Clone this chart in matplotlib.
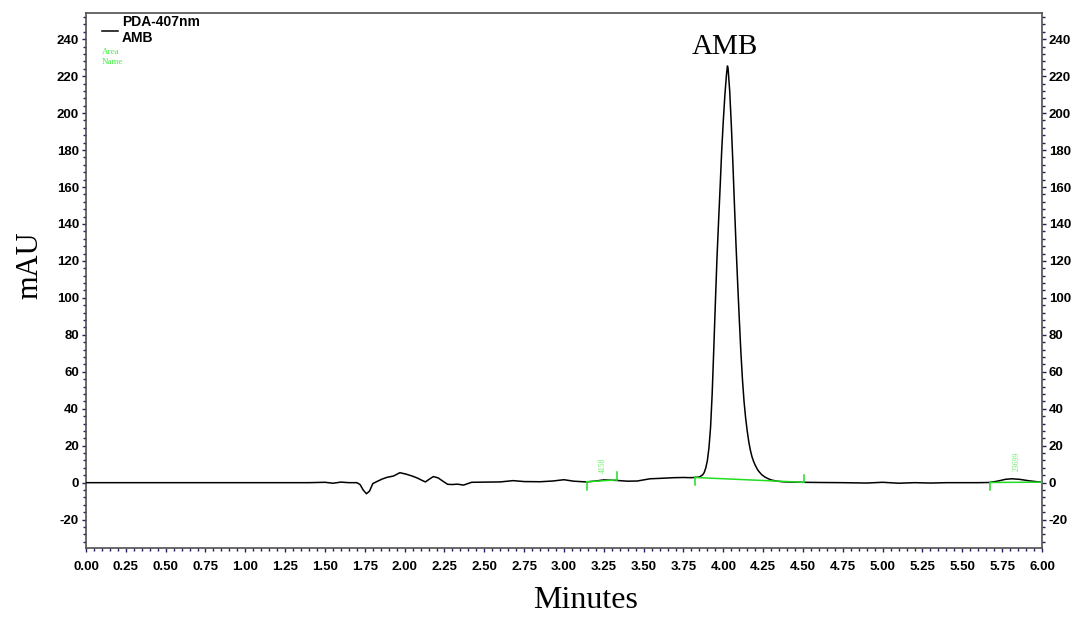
import matplotlib.pyplot as plt
from matplotlib.ticker import MultipleLocator, FormatStrFormatter

plt.rcParams['axes.unicode_minus'] = False

# chromatogram trace, PDA 407 nm (minutes, mAU)
t_min = [0.00, 0.50, 1.00, 1.40, 1.50, 1.55, 1.60, 1.65, 1.70, 1.72, 1.74, 1.76,
         1.78, 1.80, 1.83, 1.86, 1.89, 1.93, 1.97, 2.01, 2.05, 2.08, 2.11, 2.13,
         2.16, 2.18, 2.21, 2.24, 2.27, 2.30, 2.33, 2.37, 2.42, 2.50, 2.60, 2.68,
         2.75, 2.85, 2.93, 3.00, 3.06, 3.14, 3.20, 3.25, 3.33, 3.40, 3.46, 3.54,
         3.62, 3.69, 3.75, 3.80, 3.83, 3.85, 3.87, 3.88, 3.89, 3.90, 3.91, 3.92,
         3.93, 3.94, 3.95, 3.96, 3.97, 3.98, 3.99, 4.00, 4.01, 4.02, 4.026, 4.03,
         4.04, 4.05, 4.06, 4.07, 4.08, 4.09, 4.10, 4.11, 4.12, 4.13, 4.14, 4.15,
         4.16, 4.17, 4.18, 4.19, 4.20, 4.21, 4.22, 4.24, 4.26, 4.28, 4.30, 4.33,
         4.37, 4.42, 4.50, 4.60, 4.75, 4.90, 5.00, 5.10, 5.20, 5.30, 5.40, 5.50,
         5.60, 5.67, 5.72, 5.77, 5.81, 5.86, 5.92, 5.97, 6.00]
mau = [0.0, 0.0, 0.0, 0.0, 0.2, -0.3, 0.3, 0.0, 0.0, -1.0, -4.0, -6.0,
       -4.5, -0.5, 0.8, 2.0, 2.9, 3.6, 5.4, 4.6, 3.5, 2.5, 1.2, 0.4,
       2.2, 3.3, 2.6, 0.8, -0.9, -1.0, -0.8, -1.3, 0.2, 0.3, 0.4, 1.1,
       0.6, 0.5, 0.9, 1.6, 0.8, 0.4, 0.9, 1.5, 1.2, 0.8, 0.9, 2.1,
       2.4, 2.7, 2.8, 2.7, 2.9, 3.1, 4.2, 5.5, 8.0, 12.0, 19.0, 30.0,
       48.0, 72.0, 97.0, 121.0, 141.0, 160.0, 180.0, 196.0, 210.0, 221.0, 225.5, 224.0,
       212.0, 194.0, 173.0, 150.0, 128.0, 108.0, 89.0, 71.0, 56.0, 44.0, 35.0, 28.0,
       22.0, 17.5, 14.0, 11.5, 9.5, 7.8, 6.4, 4.4, 3.1, 2.2, 1.5, 0.9,
       0.5, 0.3, 0.2, 0.1, 0.0, -0.2, 0.2, -0.3, 0.0, -0.2, 0.0, 0.0,
       0.0, 0.1, 0.8, 1.8, 2.1, 1.8, 1.0, 0.5, 0.3]

# integration baselines: (start t, start mAU, end t, end mAU)
base_start_t = [3.143, 3.823, 5.675]
base_start_y = [0.5, 2.8, 0.1]
base_end_t = [3.333, 4.505, 6.00]
base_end_y = [1.5, 0.2, 0.3]

# area labels
area_t = [3.244, 5.842]
area_y = [9.6, 11.8]
area_txt = ['4158', '23699']

peak_name = 'AMB'
peak_t = 4.026
peak_h = 225.5

fig = plt.figure(figsize=(10.71, 6.17), dpi=100)
ax = fig.add_axes([0.0803, 0.1114, 0.8926, 0.867])

ax.plot(t_min, mau, color='black', lw=1.1, zorder=3)

green = '#22dd22'
for x0, y0, x1, y1 in zip(base_start_t, base_start_y, base_end_t, base_end_y):
    ax.plot([x0, x1], [y0, y1], color=green, lw=1.1, zorder=4)
    ax.plot([x0, x0], [y0, y0 - 4.2], color=green, lw=1.1, zorder=4)
    ax.plot([x1, x1], [y1, y1 + 4.2], color=green, lw=1.1, zorder=4)

for x, y, s in zip(area_t, area_y, area_txt):
    ax.text(x, y, s, rotation=90, color='#66ee66', fontsize=5.5,
            family='Liberation Serif', ha='center', va='center')

ax.text(peak_t - 0.015, peak_h + 3, peak_name, fontsize=21,
        family='Liberation Serif', ha='center', va='bottom')

ax.set_xlim(0, 6)
ax.set_ylim(-35.5, 254)

ax.xaxis.set_major_locator(MultipleLocator(0.25))
ax.xaxis.set_minor_locator(MultipleLocator(0.05))
ax.xaxis.set_major_formatter(FormatStrFormatter('%.2f'))
ax.yaxis.set_major_locator(MultipleLocator(20))
ax.yaxis.set_minor_locator(MultipleLocator(4))
ax.tick_params(axis='both', which='both', direction='out', color='#202060',
               labelsize=9.5, right=True, labelright=True, pad=2)
ax.tick_params(which='major', length=3, width=1)
ax.tick_params(which='minor', length=2, width=1)
ax.xaxis.set_tick_params(pad=6)
for lab in ax.get_xticklabels() + ax.get_yticklabels(which='both'):
    lab.set_fontweight('bold')
    lab.set_family('Liberation Sans')
for lab in ax.yaxis.get_majorticklabels():
    lab.set_fontweight('bold')
for sp in ax.spines.values():
    sp.set_color('#505050')
    sp.set_linewidth(1.2)

fig.text(586 / 1071, 1 - 601 / 617, 'Minutes', fontsize=23,
         family='Liberation Serif', ha='center', va='center')
fig.text(30 / 1071, 1 - 265 / 617, 'mAU', fontsize=22, rotation=90,
         family='Liberation Serif', ha='center', va='center')

# legend block in the top-left corner
ax.plot([0.099, 0.203], [244.6, 244.6], color='black', lw=1.1)
ax.text(0.224, 249.2, 'PDA-407nm', fontsize=10, fontweight='bold',
        family='Liberation Sans', va='center')
ax.text(0.224, 240.5, 'AMB', fontsize=10, fontweight='bold',
        family='Liberation Sans', va='center')
ax.text(0.099, 233.3, 'Area', fontsize=6.5, color='#44ee44',
        family='Liberation Serif', va='center')
ax.text(0.099, 227.9, 'Name', fontsize=6.5, color='#44ee44',
        family='Liberation Serif', va='center')

fig.savefig('out.png', dpi=100)
